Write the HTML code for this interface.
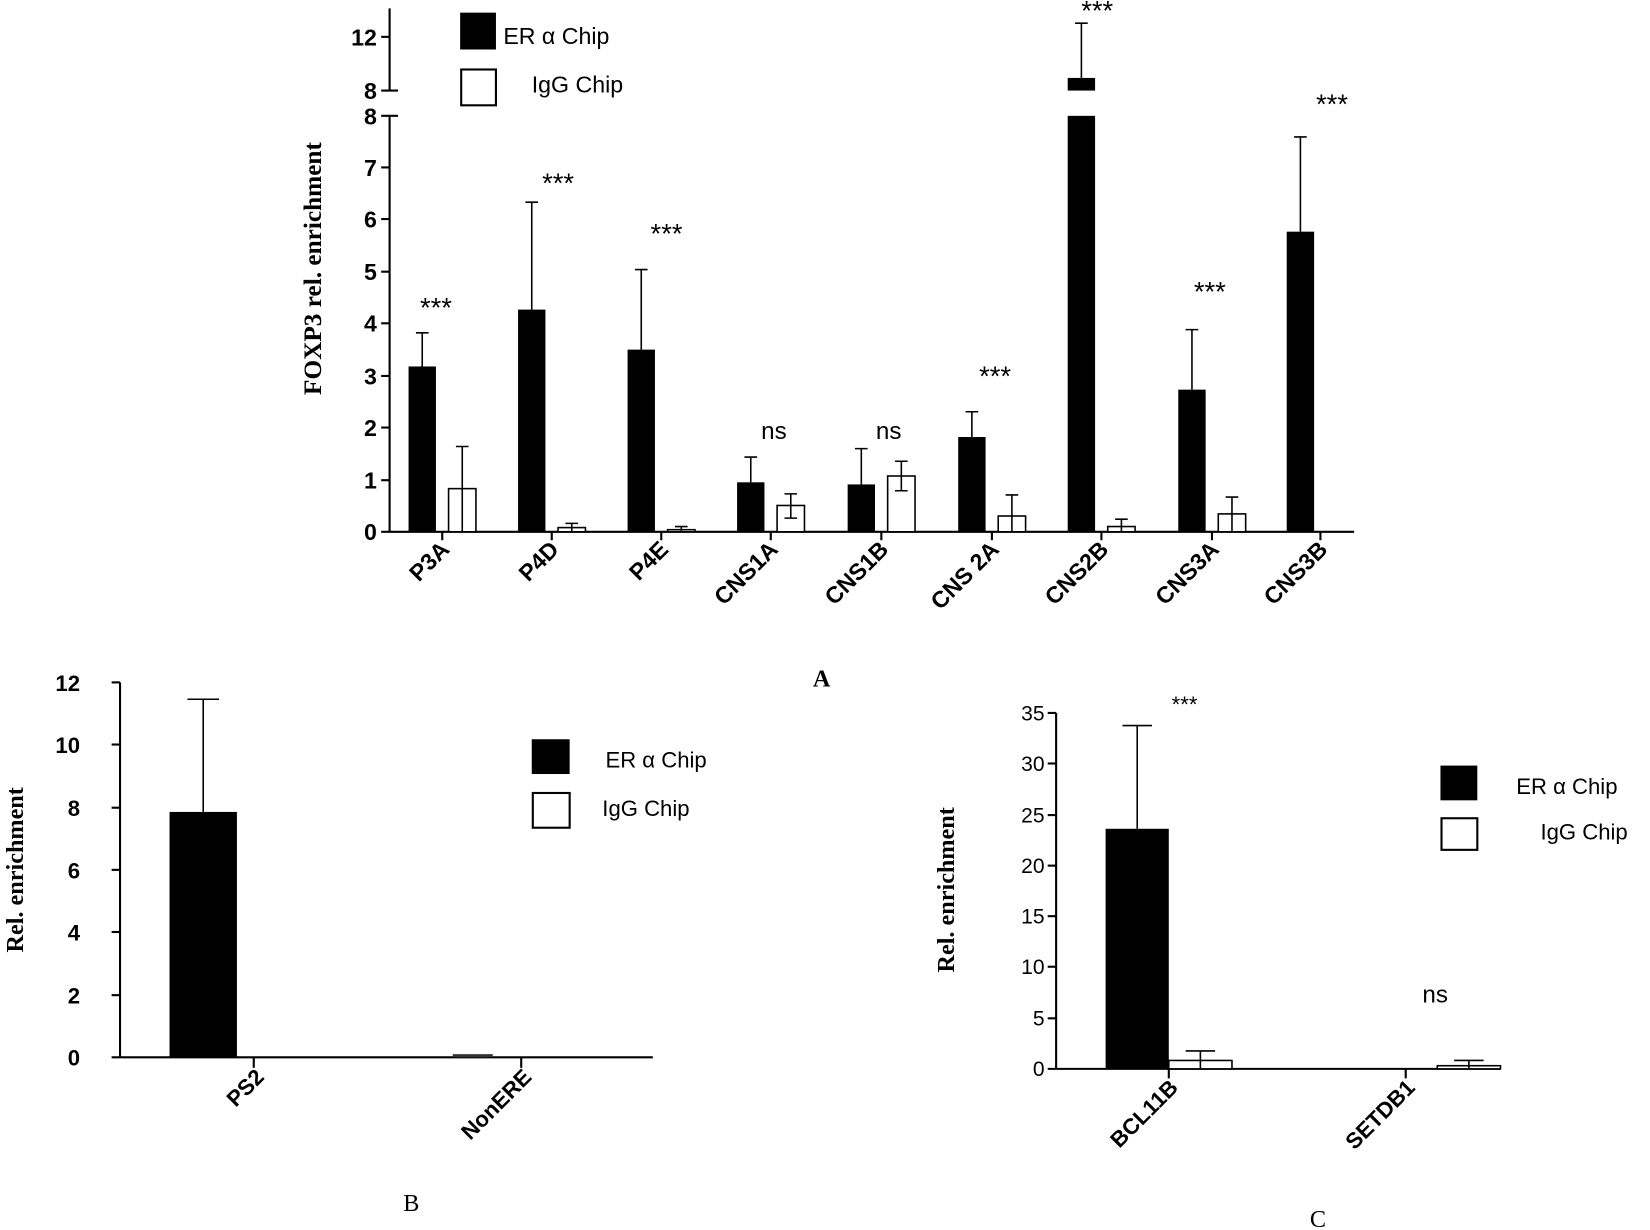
<!DOCTYPE html>
<html><head><meta charset="utf-8"><style>
html,body{margin:0;padding:0;background:#fff;}
svg{display:block;}
.t{font-family:"Liberation Sans",sans-serif;font-weight:bold;font-size:22px;fill:#000;}
.s{font-family:"Liberation Sans",sans-serif;font-size:21px;fill:#000;}
.r{font-family:"Liberation Serif",serif;font-weight:bold;font-size:23px;fill:#000;}
</style></head><body>
<svg width="1650" height="1230" viewBox="0 0 1567 1168" preserveAspectRatio="none" xmlns="http://www.w3.org/2000/svg">
<g stroke="#000" stroke-width="2" fill="none">
<line x1="370" y1="8" x2="370" y2="86"/>
<line x1="370" y1="110" x2="370" y2="505"/>
<line x1="370" y1="505" x2="1286" y2="505"/>
<line x1="362" y1="35" x2="370" y2="35"/>
<line x1="362" y1="86" x2="378" y2="86"/>
<line x1="362" y1="110" x2="378" y2="110"/>
<line x1="362" y1="159" x2="370" y2="159"/><line x1="362" y1="208" x2="370" y2="208"/>
<line x1="362" y1="258" x2="370" y2="258"/><line x1="362" y1="307" x2="370" y2="307"/>
<line x1="362" y1="357" x2="370" y2="357"/><line x1="362" y1="406" x2="370" y2="406"/>
<line x1="362" y1="456" x2="370" y2="456"/><line x1="362" y1="505" x2="370" y2="505"/>
<line x1="420" y1="505" x2="420" y2="513"/><line x1="524" y1="505" x2="524" y2="513"/>
<line x1="628" y1="505" x2="628" y2="513"/><line x1="732" y1="505" x2="732" y2="513"/>
<line x1="837" y1="505" x2="837" y2="513"/><line x1="942" y1="505" x2="942" y2="513"/>
<line x1="1046" y1="505" x2="1046" y2="513"/><line x1="1151" y1="505" x2="1151" y2="513"/>
<line x1="1254" y1="505" x2="1254" y2="513"/>
</g>
<g fill="#000">
<rect x="388" y="348" width="26" height="157"/>
<rect x="492" y="294" width="26" height="211"/>
<rect x="596" y="332" width="26" height="173"/>
<rect x="700" y="458" width="26" height="47"/>
<rect x="805" y="460" width="26" height="45"/>
<rect x="910" y="415" width="26" height="90"/>
<rect x="1014" y="110" width="26" height="395"/>
<rect x="1014" y="74" width="26" height="12"/>
<rect x="1119" y="370" width="26" height="135"/>
<rect x="1222" y="220" width="26" height="285"/>
</g>
<g fill="#fff" stroke="#000" stroke-width="1.5">
<rect x="426" y="464" width="26" height="41"/>
<rect x="530" y="501" width="26" height="4"/>
<rect x="634" y="503" width="26" height="2"/>
<rect x="738" y="480" width="26" height="25"/>
<rect x="843" y="452" width="26" height="53"/>
<rect x="948" y="490" width="26" height="15"/>
<rect x="1052" y="500" width="26" height="5"/>
<rect x="1157" y="488" width="26" height="17"/>
</g>
<g stroke="#000" stroke-width="1.5" fill="none">
<path d="M401 348V316M395 316h12"/>
<path d="M505 294V192M499 192h12"/>
<path d="M609 332V256M603 256h12"/>
<path d="M713 458V434M707 434h12"/>
<path d="M818 460V426M812 426h12"/>
<path d="M923 415V391M917 391h12"/>
<path d="M1027 74V22M1021 22h12"/>
<path d="M1132 370V313M1126 313h12"/>
<path d="M1235 220V130M1229 130h12"/>
<path d="M439 424V505M433 424h12"/>
<path d="M543 497V505M537 497h12"/>
<path d="M647 500V505M641 500h12"/>
<path d="M751 469V492M745 469h12M745 492h12"/>
<path d="M856 438V466M850 438h12M850 466h12"/>
<path d="M961 470V505M955 470h12"/>
<path d="M1065 493V505M1059 493h12"/>
<path d="M1170 472V505M1164 472h12"/>
</g>
<g class="t" text-anchor="end">
<text x="358" y="43">12</text><text x="358" y="94">8</text><text x="358" y="118">8</text>
<text x="358" y="167">7</text><text x="358" y="216">6</text><text x="358" y="266">5</text>
<text x="358" y="315">4</text><text x="358" y="365">3</text><text x="358" y="414">2</text>
<text x="358" y="464">1</text><text x="358" y="513">0</text>
</g>
<g class="t" text-anchor="end">
<text transform="translate(428,523) rotate(-45)">P3A</text>
<text transform="translate(532,523) rotate(-45)">P4D</text>
<text transform="translate(636,523) rotate(-45)">P4E</text>
<text transform="translate(740,523) rotate(-45)">CNS1A</text>
<text transform="translate(845,523) rotate(-45)">CNS1B</text>
<text transform="translate(950,523) rotate(-45)">CNS 2A</text>
<text transform="translate(1054,523) rotate(-45)">CNS2B</text>
<text transform="translate(1159,523) rotate(-45)">CNS3A</text>
<text transform="translate(1262,523) rotate(-45)">CNS3B</text>
</g>
<g class="s" text-anchor="middle">
<text x="414" y="301" style="font-size:26px">***</text>
<text x="530" y="183" style="font-size:26px">***</text>
<text x="633" y="231" style="font-size:26px">***</text>
<text x="945" y="366" style="font-size:26px">***</text>
<text x="1042" y="19" style="font-size:26px">***</text>
<text x="1149" y="286" style="font-size:26px">***</text>
<text x="1265" y="108" style="font-size:26px">***</text>
<text x="735" y="417" style="font-size:23px">ns</text>
<text x="844" y="417" style="font-size:23px">ns</text>
</g>
<text class="r" transform="translate(305,255) rotate(-90)" text-anchor="middle" style="font-size:24px">FOXP3 rel. enrichment</text>
<rect x="437" y="12" width="34" height="35" fill="#000"/>
<rect x="438" y="66" width="33" height="34" fill="#fff" stroke="#000" stroke-width="2"/>
<text class="s" x="478" y="42" style="font-size:22px">ER α Chip</text>
<text class="s" x="505" y="88" style="font-size:22px">IgG Chip</text>
<text class="r" x="772" y="652">A</text>

<g stroke="#000" stroke-width="2" fill="none">
<line x1="114" y1="648" x2="114" y2="1004"/>
<line x1="106" y1="1004" x2="620" y2="1004"/>
<line x1="106" y1="648" x2="114" y2="648"/><line x1="106" y1="707" x2="114" y2="707"/>
<line x1="106" y1="767" x2="114" y2="767"/><line x1="106" y1="826" x2="114" y2="826"/>
<line x1="106" y1="885" x2="114" y2="885"/><line x1="106" y1="945" x2="114" y2="945"/>
<line x1="241" y1="1004" x2="241" y2="1014"/><line x1="495" y1="1004" x2="495" y2="1014"/>
</g>
<rect x="161" y="771" width="64" height="233" fill="#000"/>
<rect x="430" y="1001" width="38" height="3" fill="#333"/>
<path d="M193 771V664M178 664h30" stroke="#000" stroke-width="1.5" fill="none"/>
<g class="t" text-anchor="end" style="font-size:21px">
<text x="76" y="656">12</text><text x="76" y="715">10</text><text x="76" y="775">8</text>
<text x="76" y="834">6</text><text x="76" y="893">4</text><text x="76" y="953">2</text><text x="76" y="1012">0</text>
<text transform="translate(252,1024) rotate(-45)">PS2</text>
<text transform="translate(506,1024) rotate(-45)">NonERE</text>
</g>
<text class="r" transform="translate(22,826) rotate(-90)" text-anchor="middle">Rel. enrichment</text>
<rect x="505" y="702" width="36" height="33" fill="#000"/>
<rect x="506" y="753" width="35" height="33" fill="#fff" stroke="#000" stroke-width="2"/>
<text class="s" x="575" y="729">ER α Chip</text>
<text class="s" x="572" y="775">IgG Chip</text>
<text class="r" x="383" y="1150" style="font-weight:normal">B</text>

<g stroke="#000" stroke-width="2" fill="none">
<line x1="1003" y1="677" x2="1003" y2="1015"/>
<line x1="995" y1="1015" x2="1425" y2="1015"/>
<line x1="995" y1="677" x2="1003" y2="677"/><line x1="995" y1="725" x2="1003" y2="725"/>
<line x1="995" y1="774" x2="1003" y2="774"/><line x1="995" y1="822" x2="1003" y2="822"/>
<line x1="995" y1="870" x2="1003" y2="870"/><line x1="995" y1="918" x2="1003" y2="918"/>
<line x1="995" y1="967" x2="1003" y2="967"/>
<line x1="1110" y1="1015" x2="1110" y2="1024"/><line x1="1335" y1="1015" x2="1335" y2="1024"/>
</g>
<rect x="1050" y="787" width="60" height="228" fill="#000"/>
<rect x="1110" y="1007" width="60" height="8" fill="#fff" stroke="#000" stroke-width="1.5"/>
<rect x="1365" y="1012" width="60" height="3" fill="#fff" stroke="#000" stroke-width="1.5"/>
<path d="M1080 787V689M1066 689h28M1140 998V1015M1126 998h28M1395 1007V1015M1381 1007h28" stroke="#000" stroke-width="1.5" fill="none"/>
<g class="s" text-anchor="end" style="font-size:20px">
<text x="992" y="684">35</text><text x="992" y="732">30</text><text x="992" y="781">25</text>
<text x="992" y="829">20</text><text x="992" y="877">15</text><text x="992" y="925">10</text>
<text x="992" y="974">5</text><text x="992" y="1022">0</text>
</g>
<g class="t" text-anchor="end" style="font-size:21px">
<text transform="translate(1120,1034) rotate(-45)">BCL11B</text>
<text transform="translate(1345,1034) rotate(-45)">SETDB1</text>
</g>
<text class="s" x="1125" y="676" text-anchor="middle">***</text>
<text class="s" x="1363" y="952" text-anchor="middle" style="font-size:23px">ns</text>
<text class="r" transform="translate(906,845) rotate(-90)" text-anchor="middle">Rel. enrichment</text>
<rect x="1368" y="727" width="35" height="33" fill="#000"/>
<rect x="1369" y="777" width="34" height="30" fill="#fff" stroke="#000" stroke-width="2"/>
<text class="s" x="1440" y="754">ER α Chip</text>
<text class="s" x="1463" y="797">IgG Chip</text>
<text class="r" x="1244" y="1165" style="font-weight:normal">C</text>
</svg>
</body></html>
